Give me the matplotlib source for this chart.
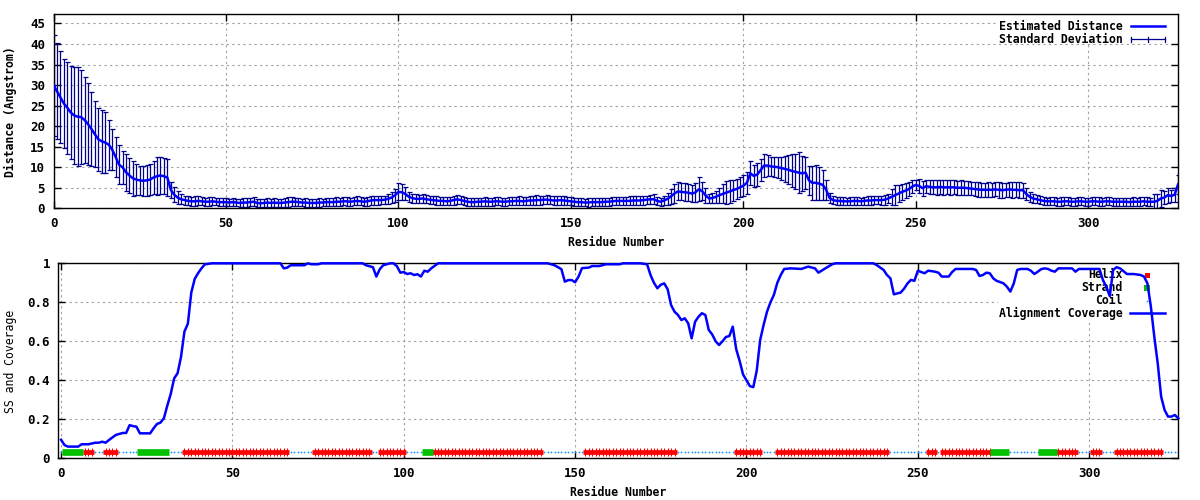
import numpy as np
import matplotlib
matplotlib.use("Agg")
import matplotlib.pyplot as plt
from matplotlib.patches import Rectangle

# --------- data ---------
# estimated distance (Angstrom) per residue 0..326
dist = [
    30.0, 28.5, 27.0, 25.5, 24.5, 23.3, 22.6, 22.3, 22.2, 21.5,
    20.5, 19.3, 18.0, 16.8, 16.3, 16.0, 15.5, 14.3, 12.5, 10.6,
    10.0, 8.8, 8.0, 7.3, 7.0, 6.8, 6.7, 6.8, 7.0, 7.5,
    7.8, 8.0, 7.8, 7.5, 4.5, 3.3, 2.6, 2.2, 2.0, 1.8,
    1.7, 1.7, 1.8, 1.7, 1.6, 1.6, 1.7, 1.6, 1.5, 1.5,
    1.5, 1.4, 1.5, 1.4, 1.3, 1.4, 1.4, 1.5, 1.6, 1.3,
    1.2, 1.3, 1.4, 1.3, 1.4, 1.3, 1.3, 1.4, 1.5, 1.6,
    1.6, 1.5, 1.4, 1.4, 1.3, 1.3, 1.3, 1.4, 1.4, 1.5,
    1.5, 1.5, 1.6, 1.6, 1.7, 1.7, 1.6, 1.7, 1.8, 1.7,
    1.6, 1.7, 1.9, 2.0, 2.0, 2.0, 2.1, 2.3, 2.6, 3.2,
    4.0, 3.9, 3.5, 2.8, 2.5, 2.3, 2.3, 2.4, 2.2, 2.1,
    2.0, 1.9, 1.8, 1.8, 1.7, 1.8, 2.0, 2.2, 2.0, 1.8,
    1.6, 1.5, 1.5, 1.6, 1.6, 1.7, 1.6, 1.6, 1.7, 1.7,
    1.6, 1.6, 1.7, 1.7, 1.8, 1.8, 1.7, 1.8, 1.9, 1.9,
    2.0, 2.0, 2.1, 2.1, 2.0, 1.9, 1.9, 2.0, 1.9, 1.8,
    1.7, 1.6, 1.5, 1.5, 1.4, 1.4, 1.5, 1.5, 1.5, 1.5,
    1.6, 1.6, 1.7, 1.8, 1.8, 1.8, 1.8, 1.8, 1.9, 1.9,
    1.9, 2.0, 2.1, 2.2, 2.2, 1.8, 1.6, 1.9, 2.3, 2.9,
    3.6, 4.1, 4.0, 3.9, 3.8, 3.6, 3.8, 4.6, 4.2, 3.2,
    2.4, 2.5, 2.8, 3.2, 3.5, 3.8, 4.1, 4.4, 4.7, 5.1,
    5.5, 6.2, 8.5, 7.9, 8.2, 9.3, 10.4, 10.4, 10.2, 10.1,
    10.0, 9.8, 9.6, 9.4, 9.1, 8.9, 8.7, 8.5, 8.7, 6.8,
    6.2, 6.2, 6.0, 5.7, 4.5, 2.5, 2.0, 1.8, 1.8, 1.7,
    1.7, 1.7, 1.8, 1.8, 1.7, 1.8, 1.9, 1.9, 2.0, 2.0,
    2.0, 2.1, 2.4, 2.8, 3.2, 3.6, 4.0, 4.3, 4.7, 5.3,
    5.7, 5.4, 4.9, 5.4, 5.2, 5.1, 5.1, 5.2, 5.1, 5.1,
    5.1, 5.1, 5.0, 5.0, 5.0, 4.9, 4.8, 4.7, 4.6, 4.5,
    4.5, 4.5, 4.5, 4.6, 4.5, 4.4, 4.5, 4.6, 4.5, 4.5,
    4.4, 4.4, 3.5, 2.8, 2.4, 2.2, 2.0, 1.8, 1.7, 1.7,
    1.7, 1.6, 1.6, 1.7, 1.7, 1.6, 1.6, 1.7, 1.7, 1.6,
    1.6, 1.7, 1.7, 1.6, 1.6, 1.7, 1.7, 1.6, 1.6, 1.6,
    1.6, 1.6, 1.5, 1.6, 1.6, 1.6, 1.7, 1.6, 1.6, 1.6,
    1.8, 2.4, 2.6, 3.2, 3.0, 3.3, 5.8,
]
dist_std = [
    12.3, 11.7, 11.2, 10.8, 11.2, 11.4, 11.9, 12.0, 11.5, 10.5,
    10.0, 9.0, 8.0, 7.7, 7.6, 7.4, 6.1, 5.0, 4.8, 4.7,
    4.0, 4.5, 4.2, 4.3, 3.7, 3.6, 3.6, 3.7, 3.8, 3.9,
    4.6, 4.5, 4.4, 4.5, 2.0, 1.8, 1.5, 1.2, 1.1, 1.1,
    1.1, 1.2, 1.1, 1.0, 1.0, 1.1, 1.0, 0.9, 1.0, 1.0,
    1.0, 0.9, 1.0, 0.9, 1.0, 1.1, 1.0, 1.0, 1.1, 1.0,
    1.0, 0.9, 1.1, 1.0, 1.0, 1.0, 0.9, 1.1, 1.2, 1.1,
    1.0, 1.0, 0.9, 1.0, 1.0, 0.9, 1.0, 1.0, 0.9, 1.0,
    1.0, 1.0, 1.1, 1.0, 1.0, 1.1, 1.0, 1.0, 1.1, 1.0,
    1.0, 1.1, 1.0, 1.1, 1.1, 1.0, 1.0, 1.2, 1.4, 1.6,
    2.1, 2.0, 1.6, 1.2, 1.1, 1.1, 1.0, 1.1, 1.0, 1.0,
    1.0, 1.0, 0.9, 1.0, 1.0, 1.0, 1.1, 1.1, 1.0, 1.0,
    1.0, 0.9, 1.0, 1.0, 1.0, 1.1, 1.0, 1.0, 1.0, 1.0,
    1.0, 1.0, 1.0, 1.0, 1.0, 1.1, 1.0, 1.0, 1.1, 1.1,
    1.2, 1.1, 1.0, 1.1, 1.0, 1.0, 1.0, 1.1, 1.0, 1.0,
    1.0, 1.0, 1.0, 1.0, 0.9, 1.0, 1.0, 1.0, 0.9, 1.0,
    1.0, 1.0, 1.0, 1.0, 1.0, 1.0, 1.0, 1.1, 1.0, 1.0,
    1.0, 1.1, 1.0, 1.1, 1.2, 1.0, 1.0, 1.1, 1.4, 1.8,
    2.3, 2.2, 2.1, 2.2, 2.0, 2.1, 2.3, 2.9, 2.3, 1.8,
    1.2, 1.3, 1.5, 1.8, 2.3, 2.8, 2.7, 2.6, 2.5, 2.4,
    2.5, 2.6, 2.9, 2.6, 2.8, 2.6, 2.7, 2.5, 2.4, 2.5,
    2.6, 2.8, 3.1, 3.6, 4.0, 4.3, 5.0, 4.3, 3.9, 3.6,
    4.1, 4.3, 4.0, 3.7, 2.4, 1.2, 1.0, 0.9, 1.0, 1.0,
    0.9, 1.0, 1.0, 1.0, 0.9, 1.0, 1.0, 1.1, 1.0, 1.0,
    1.1, 1.2, 1.0, 1.9, 2.5, 2.1, 1.9, 1.8, 1.6, 1.5,
    1.3, 1.7, 1.8, 1.6, 1.8, 1.7, 1.8, 1.7, 1.8, 1.7,
    1.8, 1.7, 1.7, 1.8, 1.7, 1.7, 1.6, 1.7, 1.8, 1.7,
    1.7, 1.8, 1.7, 1.7, 1.9, 1.8, 1.7, 1.8, 1.9, 1.8,
    1.9, 1.8, 1.5, 1.2, 1.0, 1.0, 1.0, 1.0, 0.9, 1.0,
    1.0, 1.0, 1.1, 1.0, 1.0, 1.0, 1.0, 1.0, 1.0, 1.0,
    1.0, 1.0, 1.0, 1.1, 1.0, 1.0, 1.0, 1.0, 1.0, 1.0,
    1.0, 1.0, 1.0, 1.1, 1.0, 1.1, 1.0, 1.1, 1.0, 1.8,
    1.8, 2.0, 1.6, 1.8, 1.4, 1.7, 2.4,
]

cov_res = [0, 1, 2, 3, 5, 6, 8, 10, 11, 12, 13, 14, 16, 17, 18, 19, 20, 21, 22, 23,
           26, 27, 28, 29, 30, 31, 32, 33, 34, 35, 36, 37, 38, 39, 40, 41, 42, 44,
           64, 65, 66, 67, 71, 72, 73, 75, 76, 88, 89, 91, 92, 93, 94, 96, 97, 98,
           99, 100, 101, 102, 103, 104, 105, 106, 107, 108, 110, 142, 143, 144, 146,
           147, 148, 149, 150, 151, 152, 154, 155, 157, 159, 163, 164, 169, 171, 172,
           173, 174, 175, 176, 177, 178, 179, 180, 181, 182, 183, 184, 185, 186, 187,
           188, 189, 190, 191, 192, 193, 194, 195, 196, 197, 198, 199, 200, 201, 202,
           203, 204, 205, 206, 207, 208, 209, 210, 211, 213, 216, 218, 220, 221, 223,
           225, 226, 237, 238, 240, 241, 242, 243, 245, 246, 247, 248, 249, 250, 251,
           252, 253, 254, 255, 256, 257, 259, 260, 261, 266, 267, 268, 269, 270, 271,
           272, 273, 274, 275, 276, 277, 278, 279, 280, 282, 283, 284, 285, 286, 287,
           288, 289, 290, 291, 295, 296, 297, 303, 304, 305, 306, 307, 308, 309, 310,
           311, 313, 315, 316, 317, 318, 319, 320, 321, 322, 323, 324, 325, 326]
cov_val = [0.095, 0.068, 0.060, 0.060, 0.060, 0.072, 0.072, 0.080, 0.080, 0.085,
           0.080, 0.094, 0.120, 0.125, 0.130, 0.130, 0.170, 0.165, 0.162, 0.128,
           0.128, 0.154, 0.176, 0.183, 0.205, 0.270, 0.330, 0.410, 0.436, 0.520,
           0.650, 0.690, 0.850, 0.920, 0.950, 0.975, 0.995, 1.0,
           1.0, 0.974, 0.978, 0.990, 0.990, 1.0, 0.995, 0.995, 1.0, 1.0, 0.990,
           0.980, 0.932, 0.970, 0.990, 1.0, 1.0, 0.985,
           0.952, 0.955, 0.945, 0.949, 0.940, 0.944, 0.932, 0.962, 0.957, 0.974,
           1.0, 1.0, 0.995, 0.990, 0.970,
           0.906, 0.914, 0.914, 0.903, 0.932, 0.975, 0.978, 0.986, 0.986, 0.995,
           0.995, 1.0, 1.0, 0.995, 0.940,
           0.900, 0.872, 0.890, 0.897, 0.867, 0.786, 0.752, 0.735, 0.709, 0.718,
           0.692, 0.615, 0.700, 0.726, 0.744,
           0.735, 0.658, 0.635, 0.600, 0.581, 0.600, 0.622, 0.627, 0.675, 0.560,
           0.500, 0.430, 0.400, 0.370, 0.365,
           0.450, 0.607, 0.684, 0.752, 0.800, 0.838, 0.900, 0.940, 0.971, 0.974,
           0.971, 0.983, 0.974, 0.952, 0.974,
           0.995, 1.0, 1.0, 0.991, 0.966, 0.940, 0.923, 0.841, 0.850, 0.870,
           0.897, 0.915, 0.910, 0.962, 0.955,
           0.949, 0.962, 0.960, 0.957, 0.952, 0.932, 0.932, 0.955, 0.971, 0.971,
           0.966, 0.935, 0.940, 0.952, 0.949,
           0.923, 0.910, 0.904, 0.897, 0.880, 0.855, 0.897, 0.966, 0.971, 0.971,
           0.962, 0.945, 0.957, 0.970, 0.974,
           0.971, 0.962, 0.957, 0.974, 0.974, 0.957, 0.971, 0.971, 0.915, 0.880,
           0.832, 0.966, 0.980, 0.974, 0.960,
           0.945, 0.945, 0.940, 0.932, 0.897, 0.778, 0.624, 0.487, 0.316, 0.248,
           0.214, 0.214, 0.222, 0.205]

# secondary structure segments (first, last residue)
helix_segments = [(7, 9), (13, 16), (36, 66), (74, 90), (93, 100), (109, 140),
                  (153, 179), (197, 204), (209, 241), (253, 255), (257, 271),
                  (291, 296), (301, 303), (308, 321)]
strand_segments = [(1, 6), (23, 31), (106, 108), (272, 276), (286, 290)]
n_res = 327
ss_level = 0.03

# --------- style ---------
plt.rcParams['font.family'] = ['DejaVu Sans Mono']
plt.rcParams['font.size'] = 8.3
plt.rcParams['font.weight'] = 'bold'
BLUE = '#0000ff'
NAVY = '#00008b'
RED = '#ff0000'
GREEN = '#00c000'
COIL = '#1e90ff'
GRID = dict(color='#a0a0a0', linestyle=(0, (2, 3)), linewidth=0.8)

residues = np.arange(len(dist))
helix_res = [r for a, b in helix_segments for r in range(a, b + 1)]
strand_res = [r for a, b in strand_segments for r in range(a, b + 1)]
coil_res = [r for r in range(n_res) if r not in helix_res and r not in strand_res]

fig = plt.figure(figsize=(12, 5), dpi=100)
ax1 = fig.add_axes([0.0446, 0.5834, 0.9371, 0.3886])
ax2 = fig.add_axes([0.0486, 0.0834, 0.9333, 0.3900])


def style_axis(ax):
    ax.set_axisbelow(True)
    ax.grid(True, **GRID)
    ax.tick_params(direction='in', length=5, width=1, top=True, right=True,
                   labelsize=9, pad=6)
    for lbl in ax.get_xticklabels() + ax.get_yticklabels():
        lbl.set_fontweight('bold')
    for sp in ax.spines.values():
        sp.set_linewidth(1.0)


# ---- top panel: estimated distance ----
ax1.errorbar(residues, dist, yerr=dist_std, fmt='none', ecolor=NAVY,
             elinewidth=0.9, capsize=1.8, capthick=0.9, zorder=2)
ax1.plot(residues, dist, color=BLUE, linewidth=1.8, zorder=3)
ax1.set_xlim(0, 326)
ax1.set_ylim(0, 47.3)
ax1.set_xticks(range(0, 301, 50))
ax1.set_yticks(range(0, 46, 5))
style_axis(ax1)
ax1.set_xlabel('Residue Number', fontweight='bold')
ax1.xaxis.set_label_coords(0.5, -0.14)

# key (opaque box, text left of sample)
ax1.add_patch(Rectangle((0.839, 0.85), 0.161, 0.15, transform=ax1.transAxes,
                        facecolor='white', edgecolor='none', zorder=1))
ax1.text(0.951, 0.938, 'Estimated Distance', transform=ax1.transAxes,
         ha='right', va='center', fontweight='bold', zorder=4)
ax1.plot([0.958, 0.988], [0.938, 0.938], transform=ax1.transAxes,
         color=BLUE, linewidth=1.8, zorder=4)
ax1.text(0.951, 0.871, 'Standard Deviation', transform=ax1.transAxes,
         ha='right', va='center', fontweight='bold', zorder=4)
ax1.plot([0.958, 0.988], [0.871, 0.871], transform=ax1.transAxes,
         color=NAVY, linewidth=0.9, zorder=4)
for xk in (0.958, 0.973, 0.988):
    ax1.plot([xk, xk], [0.858, 0.884], transform=ax1.transAxes,
             color=NAVY, linewidth=0.9, zorder=4)

# ---- bottom panel: SS and coverage ----
ax2.plot(coil_res, [ss_level] * len(coil_res), linestyle='none', marker='o',
         markersize=1.3, color=COIL, markeredgewidth=0, zorder=2)
for a, b in helix_segments:
    ax2.hlines(ss_level, a - 0.65, b + 0.65, colors=RED, linewidth=3.4,
               zorder=2)
ax2.plot(helix_res, [ss_level] * len(helix_res), linestyle='none', marker='|',
         markersize=5.6, color=RED, markeredgewidth=0.8, zorder=2)
for a, b in strand_segments:
    ax2.hlines(ss_level, a - 0.8, b + 0.5, colors=GREEN, linewidth=4.8,
               zorder=3)
ax2.plot(cov_res, cov_val, color=BLUE, linewidth=1.8, zorder=5, clip_on=False)
ax2.set_xlim(-0.8, 326)
ax2.set_ylim(0, 1)
ax2.set_xticks(range(0, 301, 50))
ax2.set_yticks([0, 0.2, 0.4, 0.6, 0.8, 1.0])
ax2.set_yticklabels(['0', '0.2', '0.4', '0.6', '0.8', '1'])
style_axis(ax2)
ax2.set_xlabel('Residue Number', fontweight='bold')
ax2.xaxis.set_label_coords(0.5, -0.14)

ax2.add_patch(Rectangle((0.839, 0.709), 0.161, 0.291, transform=ax2.transAxes,
                        facecolor='white', edgecolor='none', zorder=1))
key_rows = [('Helix', 0.940), ('Strand', 0.875), ('Coil', 0.808),
            ('Alignment Coverage', 0.744)]
for name, yk in key_rows:
    ax2.text(0.9506, yk, name, transform=ax2.transAxes, ha='right',
             va='center', fontweight='bold', zorder=4)
ax2.plot([0.972], [0.940], transform=ax2.transAxes, marker='s', markersize=3.6,
         color=RED, markeredgewidth=0, zorder=4)
ax2.plot([0.972], [0.875], transform=ax2.transAxes, marker='s', markersize=4.8,
         color=GREEN, markeredgewidth=0, zorder=4)
ax2.plot([0.972], [0.808], transform=ax2.transAxes, marker='o', markersize=1.3,
         color=COIL, markeredgewidth=0, zorder=4)
ax2.plot([0.957, 0.988], [0.744, 0.744], transform=ax2.transAxes,
         color=BLUE, linewidth=1.8, zorder=6)

fig.text(10 / 1200, 1 - 112 / 500, 'Distance (Angstrom)', rotation=90,
         ha='center', va='center', fontweight='bold')
fig.text(10.7 / 1200, 1 - 361.6 / 500, 'SS and Coverage', rotation=90,
         ha='center', va='center', fontweight='normal')

fig.savefig('out.png', dpi=100)
